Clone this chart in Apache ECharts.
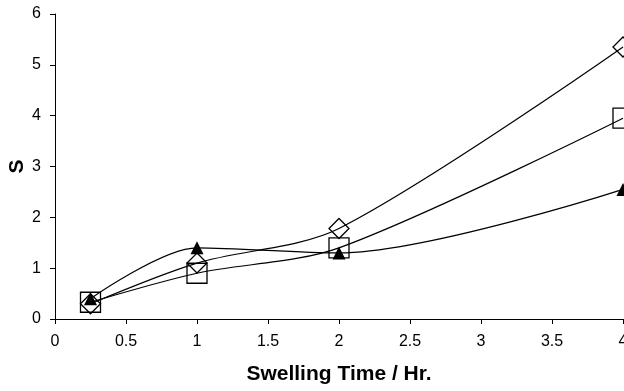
<!DOCTYPE html>
<html>
<head>
<meta charset="utf-8">
<script src="https://cdn.jsdelivr.net/npm/echarts@6/dist/echarts.min.js"></script>
<style>
  html, body { margin: 0; padding: 0; background: #fff; }
  #chart { width: 624px; height: 391px; }
</style>
</head>
<body>
<div id="chart"></div>
<script>
// swelling time (hr)
var times = [0.25, 1, 2, 4];
var diamondS = [0.30, 1.10, 1.78, 5.35];
var squareS = [0.33, 0.90, 1.40, 3.95];
var triangleS = [0.40, 1.40, 1.30, 2.55];
var xTicks = [0, 0.5, 1, 1.5, 2, 2.5, 3, 3.5, 4];
var yTicks = [0, 1, 2, 3, 4, 5, 6];

function pairs(ys) {
  return times.map(function (t, i) { return [t, ys[i]]; });
}

var chart = echarts.init(document.getElementById('chart'));
var font = 'Liberation Sans, Arial, sans-serif';

function lineSeries(name, ys, symbol, size, filled) {
  return {
    name: name,
    type: 'line',
    data: pairs(ys),
    smooth: 0.3,
    clip: false,
    symbol: symbol,
    symbolSize: size,
    showAllSymbol: true,
    lineStyle: { color: '#000', width: 1.2 },
    itemStyle: {
      color: filled ? '#000' : 'rgba(0,0,0,0)',
      borderColor: '#000',
      borderWidth: filled ? 0 : 1.3
    },
    emphasis: { disabled: true },
    z: 2
  };
}

chart.setOption({
  animation: false,
  grid: { left: 55, right: 1, top: 14, bottom: 72, containLabel: false, outerBoundsMode: 'none' },
  xAxis: {
    type: 'value',
    min: 0,
    max: 4,
    interval: 0.5,
    name: 'Swelling Time / Hr.',
    nameLocation: 'middle',
    nameGap: 45,
    nameTextStyle: { fontFamily: font, fontWeight: 'bold', fontSize: 21, color: '#000' },
    axisLine: { show: true, lineStyle: { color: '#000', width: 1 } },
    axisTick: { show: true, length: 5, lineStyle: { color: '#000' } },
    axisLabel: {
      color: '#000', fontFamily: font, fontSize: 16, margin: 15,
      formatter: function (v) { return xTicks.indexOf(v) >= 0 ? String(v) : ''; }
    },
    splitLine: { show: false }
  },
  yAxis: {
    type: 'value',
    min: 0,
    max: 6,
    interval: 1,
    name: 'S',
    nameLocation: 'middle',
    nameGap: 27,
    nameMoveOverlap: false,
    nameRotate: 90,
    nameTextStyle: { fontFamily: font, fontWeight: 'bold', fontSize: 21, color: '#000' },
    axisLine: { show: true, lineStyle: { color: '#000', width: 1 } },
    axisTick: { show: true, length: 5, lineStyle: { color: '#000' } },
    axisLabel: {
      color: '#000', fontFamily: font, fontSize: 16, margin: 14,
      formatter: function (v) { return yTicks.indexOf(v) >= 0 ? String(v) : ''; }
    },
    splitLine: { show: false }
  },
  series: [
    lineSeries('square', squareS, 'rect', 20, false),
    lineSeries('diamond', diamondS, 'diamond', 20, false),
    lineSeries('triangle', triangleS, 'triangle', 13, true)
  ]
});
</script>
</body>
</html>
